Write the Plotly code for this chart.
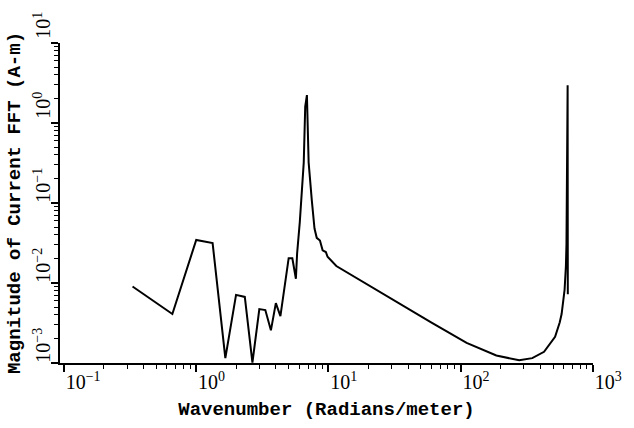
import plotly.graph_objects as go

# Wavenumber samples (radians/meter) and |FFT| of the current (A-m)
wavenumber = [
    0.33, 0.66, 1.0, 1.33, 1.66, 2.0, 2.33, 2.66, 3.0, 3.33, 3.67, 4.0, 4.33,
    5.0, 5.33, 5.67, 5.79, 6.07, 6.5, 6.67, 6.87, 7.08, 7.48, 7.84, 8.15,
    8.62, 9.03, 9.55, 9.84, 11.46, 59.7, 110.8, 185.8, 276.8, 347.4, 426.5,
    516.8, 560.0, 579.0, 610.0, 624.0, 630.0, 643.0, 645.0,
]
magnitude = [
    0.00904, 0.0041, 0.0345, 0.0315, 0.00115, 0.0071, 0.0067, 0.00101,
    0.00472, 0.00459, 0.00256, 0.00561, 0.00385, 0.0204, 0.0204, 0.0113,
    0.0233, 0.058, 0.32, 1.6, 2.23, 0.32, 0.108, 0.048, 0.0367, 0.034,
    0.0256, 0.0244, 0.0213, 0.0163, 0.00321, 0.00178, 0.00124, 0.00108,
    0.00115, 0.00138, 0.00213, 0.00321, 0.00409, 0.00828, 0.0163, 0.0303,
    2.96, 0.00723,
]

# Axis decades and their labels
x_tick_vals = [0.1, 1, 10, 100, 1000]
x_tick_text = ["10<sup>−1</sup>", "10<sup>0</sup>", "10<sup>1</sup>",
               "10<sup>2</sup>", "10<sup>3</sup>"]
y_tick_vals = [0.001, 0.01, 0.1, 1, 10]
y_tick_text = ["10<sup>−3</sup>", "10<sup>−2</sup>", "10<sup>−1</sup>",
               "10<sup>0</sup>", "10<sup>1</sup>"]


def minor_ticks(decades):
    vals = []
    for d in decades[:-1]:
        vals += [d * m for m in range(2, 10)]
    return vals


fig = go.Figure()
fig.add_trace(go.Scatter(
    x=wavenumber, y=magnitude, mode="lines",
    line=dict(color="black", width=2),
    showlegend=False,
))

tick_font = dict(family="Liberation Serif", size=20, color="black")
title_font = dict(family="Liberation Mono", size=19, color="black")

fig.update_xaxes(
    type="log", range=[-1.03, 3],
    tickmode="array", tickvals=x_tick_vals, ticktext=x_tick_text,
    ticks="outside", ticklen=7, tickwidth=1.5, tickcolor="black",
    ticklabelposition="outside right",
    minor=dict(tickmode="array", tickvals=minor_ticks(x_tick_vals),
               ticks="outside", ticklen=4, tickwidth=1.2, tickcolor="black",
               showgrid=False),
    showline=True, linewidth=2, linecolor="black",
    showgrid=False, zeroline=False,
    tickfont=tick_font,
    title=dict(text="<b>Wavenumber (Radians/meter)</b>", font=title_font,
               standoff=10),
)
fig.update_yaxes(
    type="log", range=[-3, 1],
    tickmode="array", tickvals=y_tick_vals, ticktext=y_tick_text,
    ticks="outside", ticklen=7, tickwidth=1.5, tickcolor="black",
    tickangle=-90, ticklabelposition="outside top",
    minor=dict(tickmode="array", tickvals=minor_ticks(y_tick_vals),
               ticks="outside", ticklen=4, tickwidth=1.2, tickcolor="black",
               showgrid=False),
    showline=True, linewidth=2, linecolor="black",
    showgrid=False, zeroline=False,
    tickfont=tick_font,
    title=dict(text="<b>Magnitude of Current FFT (A-m)</b>", font=title_font,
               standoff=4),
)

# short stub of the x axis line running past the y axis at the corner
fig.add_shape(type="line", xref="paper", yref="paper",
              x0=-0.015, x1=0.0, y0=0, y1=0,
              line=dict(color="black", width=2))

fig.update_layout(
    width=634, height=428,
    margin=dict(l=58, r=32, t=33, b=55),
    paper_bgcolor="white", plot_bgcolor="white",
)

fig.write_html("out.html")
